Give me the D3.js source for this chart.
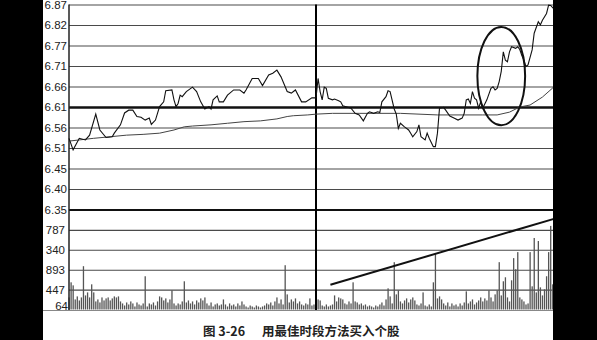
<!DOCTYPE html>
<html>
<head>
<meta charset="utf-8">
<script src="https://cdn.jsdelivr.net/npm/d3@7"></script>
<style>
  html, body { margin: 0; padding: 0; background: #fff; }
  svg { display: block; }
</style>
</head>
<body>
<svg id="chart" width="597" height="340"></svg>
<script>
// previous close and grid step of the price panel
const prevClose = 6.61;
const priceStep = 0.0517;
const priceLabels = ["6.35", "6.40", "6.45", "6.51", "6.56", "6.61", "6.66", "6.71", "6.77", "6.82", "6.87"];

const volTicks = [0, 447, 893, 1340, 1787, 2233];
const volLabels = ["64", "447", "893", "340", "787", ""];

// [minute, price] vertices of the intraday price line
const priceLine = [
  [0, 6.531], [2, 6.502], [5, 6.531], [8, 6.527], [10, 6.539], [13, 6.592], [15, 6.552],
  [18, 6.533], [21, 6.535], [22, 6.544], [25, 6.565], [27, 6.595], [29, 6.602], [31, 6.602],
  [33, 6.586], [35, 6.584], [37, 6.577], [39, 6.582], [40, 6.566], [42, 6.577], [44, 6.611],
  [46, 6.623], [47, 6.651], [50, 6.653], [51, 6.628], [52, 6.611], [53, 6.619], [54, 6.640],
  [55, 6.636], [57, 6.649], [60, 6.660], [62, 6.649], [64, 6.623], [66, 6.605], [68, 6.611],
  [69, 6.605], [70, 6.628], [72, 6.638], [73, 6.623], [75, 6.623], [77, 6.640], [80, 6.653],
  [83, 6.653], [85, 6.645], [86, 6.653], [89, 6.682], [92, 6.682], [94, 6.664], [97, 6.691],
  [99, 6.695], [101, 6.703], [103, 6.686], [106, 6.649], [108, 6.645], [110, 6.653],
  [113, 6.623], [115, 6.623], [118, 6.633], [120, 6.633],
  [121, 6.682], [122, 6.649], [123, 6.628], [124, 6.660], [125, 6.657], [126, 6.632],
  [128, 6.628], [129, 6.630], [131, 6.626], [132, 6.623], [133, 6.613], [137, 6.607],
  [139, 6.594], [141, 6.590], [143, 6.575], [145, 6.594], [146, 6.598], [148, 6.594],
  [150, 6.598], [151, 6.596], [152, 6.623], [154, 6.636], [155, 6.651], [156, 6.649],
  [158, 6.605], [159, 6.592], [160, 6.556], [161, 6.569], [163, 6.560], [165, 6.552],
  [166, 6.544], [167, 6.535], [169, 6.548], [170, 6.565], [171, 6.535], [173, 6.527],
  [174, 6.544], [175, 6.531], [177, 6.510], [178, 6.510], [179, 6.544], [180, 6.607],
  [182, 6.609], [183, 6.602], [185, 6.587], [187, 6.582], [189, 6.577], [191, 6.582],
  [192, 6.594], [193, 6.628], [194, 6.630], [195, 6.619], [196, 6.649], [197, 6.632],
  [198, 6.628], [199, 6.607], [200, 6.623], [201, 6.607], [203, 6.628], [205, 6.657],
  [206, 6.661], [207, 6.653], [208, 6.657], [209, 6.674], [210, 6.700], [211, 6.749],
  [212, 6.728], [213, 6.724], [214, 6.749], [215, 6.762], [217, 6.758], [218, 6.762],
  [219, 6.755], [220, 6.740], [221, 6.728], [222, 6.712], [223, 6.716], [225, 6.754],
  [226, 6.796], [228, 6.825], [229, 6.817], [230, 6.829], [232, 6.846], [233, 6.867],
  [234, 6.866], [236, 6.855]
];

// [minute, price] vertices of the average price line
const avgLine = [
  [0, 6.524], [5, 6.527], [12, 6.531], [20, 6.535], [28, 6.539], [36, 6.541], [44, 6.544],
  [51, 6.552], [56, 6.560], [60, 6.562], [69, 6.565], [77, 6.569], [85, 6.573], [93, 6.575],
  [101, 6.580], [106, 6.586], [109, 6.588], [116, 6.590], [120, 6.592], [128, 6.594],
  [141, 6.594], [161, 6.594], [179, 6.590], [201, 6.590], [208, 6.590], [214, 6.597],
  [219, 6.610], [224, 6.615], [230, 6.635], [235, 6.658], [236, 6.660]
];

// volume per minute, starting at 9:30
const volume = [
  271, 610, 542, 226, 294, 203, 271, 972, 316, 384, 271, 565, 384, 181, 226, 158,
  271, 203, 249, 271, 203, 249, 294, 271, 294, 181, 136, 90, 158, 113, 181, 136,
  68, 158, 113, 90, 136, 746, 68, 136, 113, 158, 90, 181, 294, 271, 203, 249,
  158, 226, 429, 136, 90, 136, 113, 181, 633, 158, 203, 136, 181, 113, 203, 158,
  249, 203, 271, 136, 90, 158, 68, 113, 136, 90, 113, 226, 113, 68, 136, 90,
  113, 68, 136, 90, 181, 113, 68, 45, 90, 68, 45, 90, 68, 45, 68, 90,
  136, 113, 158, 90, 181, 271, 136, 226, 113, 994, 339, 158, 226, 181, 249, 136,
  181, 113, 90, 136, 113, 249, 90, 113, 68, 226, 203, 90, 68, 113, 68, 90,
  113, 316, 181, 271, 249, 226, 136, 113, 181, 136, 610, 181, 158, 113, 136, 90,
  113, 68, 90, 68, 45, 90, 68, 113, 158, 90, 226, 475, 294, 136, 1062, 339,
  429, 181, 136, 203, 249, 158, 226, 271, 203, 113, 90, 136, 384, 90, 68, 113,
  68, 610, 1243, 249, 294, 226, 136, 90, 158, 68, 136, 90, 113, 68, 136, 90,
  158, 407, 136, 181, 226, 113, 158, 203, 271, 181, 249, 203, 429, 271, 181, 339,
  429, 1062, 316, 633, 723, 271, 181, 655, 1153, 904, 1288, 271, 226, 181, 113, 136,
  1288, 520, 1605, 384, 1537, 497, 316, 452, 746, 1288, 1876, 565
];

// hand-drawn annotations
const trendLine = [[127, 554], [236, 2040]];
const circleNote = { minute: 210, price: 6.688, rMinute: 11.6, rPrice: 0.124 };
const captionNo = "图 3-26";
const captionText = "用最佳时段方法买入个股";

const svg = d3.select("#chart");
const left = 69, right = 553;

const x = d3.scaleLinear().domain([0, 240]).range([left, 563]);
const yPrice = d3.scaleLinear()
  .domain([prevClose - 5 * priceStep, prevClose + 5 * priceStep])
  .range([209.5, 4.5]);
const yVol = d3.scaleLinear().domain([0, 2233]).range([309.5, 210]);

const priceTickVals = priceLabels.map((d, i) => prevClose + (i - 5) * priceStep);

// price axis + grid
const pAxis = svg.append("g")
  .attr("transform", `translate(${left},0)`)
  .call(d3.axisLeft(yPrice)
    .tickValues(priceTickVals)
    .tickFormat((d, i) => priceLabels[i])
    .tickSize(-(right - left))
    .tickPadding(2));
pAxis.select(".domain").remove();
pAxis.selectAll("line")
  .attr("stroke-width", (d, i) => i === 5 ? 2.4 : (i === 0 ? 2 : 1.1))
  .attr("stroke", (d, i) => (i === 5 || i === 0) ? "#111" : "#4a4a4a");
pAxis.selectAll("text")
  .attr("font-family", "Liberation Sans, Arial, sans-serif")
  .attr("font-size", 11.5)
  .attr("fill", "#222");

// volume axis + grid
const vAxis = svg.append("g")
  .attr("transform", `translate(${left},0)`)
  .call(d3.axisLeft(yVol)
    .tickValues(volTicks.slice(1, 5))
    .tickFormat((d, i) => volLabels[i + 1])
    .tickSize(-(right - left))
    .tickPadding(4));
vAxis.select(".domain").remove();
vAxis.selectAll("line").attr("stroke", "#4a4a4a").attr("stroke-width", 1.1);
vAxis.selectAll("text")
  .attr("font-family", "Liberation Sans, Arial, sans-serif")
  .attr("font-size", 11.5)
  .attr("fill", "#222");

svg.append("text")
  .attr("x", left - 1)
  .attr("y", yVol(0) + 0.5)
  .attr("text-anchor", "end")
  .attr("font-family", "Liberation Sans, Arial, sans-serif")
  .attr("font-size", 11.5)
  .attr("fill", "#222")
  .text(volLabels[0]);

// volume bars
svg.append("g").selectAll("rect")
  .data(volume)
  .enter().append("rect")
  .attr("x", (d, i) => x(i) - 0.6)
  .attr("y", d => yVol(d))
  .attr("width", 1.3)
  .attr("height", d => yVol(0) - yVol(d))
  .attr("fill", "#555");

// baseline
svg.append("line")
  .attr("x1", 43).attr("x2", right)
  .attr("y1", 310.5).attr("y2", 310.5)
  .attr("stroke", "#888").attr("stroke-width", 1.2);

// left axis and midday separator
svg.append("line")
  .attr("x1", left).attr("x2", left)
  .attr("y1", yPrice.range()[1]).attr("y2", 310)
  .attr("stroke", "#222").attr("stroke-width", 1.5);
svg.append("line")
  .attr("x1", x(120)).attr("x2", x(120))
  .attr("y1", yPrice.range()[1]).attr("y2", 310)
  .attr("stroke", "#000").attr("stroke-width", 2);

// average and price lines
const line = d3.line().x(d => x(d[0])).y(d => yPrice(d[1]));
svg.append("path")
  .datum(avgLine)
  .attr("d", line)
  .attr("fill", "none")
  .attr("stroke", "#444")
  .attr("stroke-width", 1);
svg.append("path")
  .datum(priceLine)
  .attr("d", line)
  .attr("fill", "none")
  .attr("stroke", "#111")
  .attr("stroke-width", 1.1);

// annotations
svg.append("ellipse")
  .attr("cx", x(circleNote.minute))
  .attr("cy", yPrice(circleNote.price))
  .attr("rx", x(circleNote.rMinute) - x(0))
  .attr("ry", yPrice(0) - yPrice(circleNote.rPrice))
  .attr("fill", "none")
  .attr("stroke", "#111")
  .attr("stroke-width", 2);

svg.append("line")
  .attr("x1", x(trendLine[0][0])).attr("y1", yVol(trendLine[0][1]))
  .attr("x2", x(trendLine[1][0])).attr("y2", yVol(trendLine[1][1]))
  .attr("stroke", "#111")
  .attr("stroke-width", 2);

// side masks
svg.append("rect").attr("x", 0).attr("y", 0).attr("width", 43).attr("height", 340).attr("fill", "#000");
svg.append("rect").attr("x", right).attr("y", 0).attr("width", 597 - right).attr("height", 340).attr("fill", "#000");

// caption
const cap = svg.append("text")
  .attr("y", 336)
  .attr("font-family", "Noto Sans CJK SC, sans-serif")
  .attr("font-weight", "bold")
  .attr("font-size", 12.5)
  .attr("fill", "#222");
cap.append("tspan").attr("x", 203).text(captionNo);
cap.append("tspan").attr("x", 262).text(captionText);
</script>
</body>
</html>
